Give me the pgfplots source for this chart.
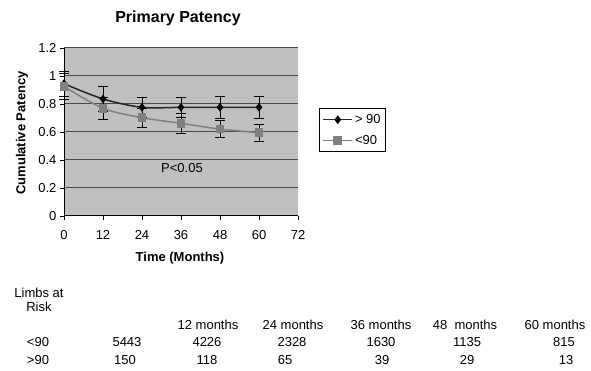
\documentclass[border=0pt]{standalone}
\usepackage{pgfplots}
\pgfplotsset{compat=1.18}
\usepackage{fontspec}
\setmainfont{Liberation Sans}
\definecolor{bg}{HTML}{C0C0C0}
\definecolor{grayline}{HTML}{808080}
\pgfplotstableread{
x y e
0 0.945 0.09
12 0.836 0.088
24 0.776 0.072
36 0.776 0.072
48 0.776 0.08
60 0.776 0.08
}\hi
\pgfplotstableread{
x y e
0 0.925 0.09
12 0.769 0.079
24 0.702 0.069
36 0.662 0.072
48 0.621 0.059
60 0.595 0.06
}\lo
\begin{document}
\begin{tikzpicture}[font=\fontsize{13}{15}\selectfont]
\useasboundingbox (0pt,0pt) rectangle (591pt,-371pt);
\begin{axis}[
 at={(64pt,-216pt)}, anchor=south west, scale only axis, width=234pt, height=168pt,
 xmin=0,xmax=72,ymin=0,ymax=1.2, clip=false,
 xtick={0,12,24,36,48,60,72}, ytick={0,0.2,0.4,0.6,0.8,1,1.2},
 axis x line*=bottom, axis y line*=left,
 axis line style={black, line width=1pt, -},
 tick align=outside, major tick length=4pt, tick style={black, line width=0.9pt},
 ymajorgrids, grid style={color=black!70, line width=1pt},
 axis background/.style={fill=bg},
 /pgf/number format/assume math mode=true,
 yticklabel style={/pgf/number format/fixed, /pgf/number format/precision=1},
 xticklabel style={yshift=-7pt},
 tick label style={font=\fontsize{13}{15}\selectfont},
 legend style={at={(1.09,0.643)}, anchor=north west, draw=black, line width=0.9pt, fill=white, font=\fontsize{13}{15}\selectfont, row sep=6pt, inner xsep=3pt, inner ysep=4pt},
 legend cell align=left,
 legend image code/.code={\draw[mark repeat=2,mark phase=2,#1] plot coordinates {(0pt,0pt)(14.5pt,0pt)(29pt,0pt)};},
]
\addplot[color=black!85, line width=1.5pt, smooth, mark=diamond*, mark size=3.2pt, mark options={solid, fill=black, draw=black},
  error bars/.cd, y dir=both, y explicit, error mark=|, error bar style={black, line width=1pt}, error mark options={black, mark size=5pt, line width=1pt}]
  table[x=x, y=y, y error=e] {\hi};
\addlegendentry{> 90}
\addplot[color=grayline, line width=1.5pt, smooth, mark=square*, mark size=3.6pt, mark options={solid, fill=grayline, draw=grayline},
  error bars/.cd, y dir=both, y explicit, error mark=|, error bar style={black, line width=1pt}, error mark options={black, mark size=5pt, line width=1pt}]
  table[x=x, y=y, y error=e] {\lo};
\addlegendentry{<90}
\node at (axis cs:36.3,0.343) {P<0.05};
\end{axis}
\node[font=\bfseries\fontsize{16}{18}\selectfont] at (178pt,-18pt) {Primary Patency};
\node[font=\bfseries\fontsize{13}{15}\selectfont, rotate=90] at (22pt,-133pt) {Cumulative Patency};
\node[font=\bfseries\fontsize{13}{15}\selectfont] at (180pt,-258pt) {Time (Months)};
\node[align=center, font=\fontsize{13}{14}\selectfont] at (39pt,-300pt) {Limbs at\\Risk};
\node at (208pt,-325pt) {12 months};
\node at (293pt,-325pt) {24 months};
\node at (381pt,-325pt) {36 months};
\node at (465pt,-325pt) {48\ \ months};
\node at (555pt,-325pt) {60 months};
\node at (38pt,-342pt) {<90};
\node at (127pt,-342pt) {5443};
\node at (207pt,-342pt) {4226};
\node at (292pt,-342pt) {2328};
\node at (381pt,-342pt) {1630};
\node at (467pt,-342pt) {1135};
\node at (564pt,-342pt) {815};
\node at (38pt,-360pt) {>90};
\node at (125pt,-360pt) {150};
\node at (207pt,-360pt) {118};
\node at (285pt,-360pt) {65};
\node at (382pt,-360pt) {39};
\node at (467pt,-360pt) {29};
\node at (566pt,-360pt) {13};
\end{tikzpicture}
\end{document}
